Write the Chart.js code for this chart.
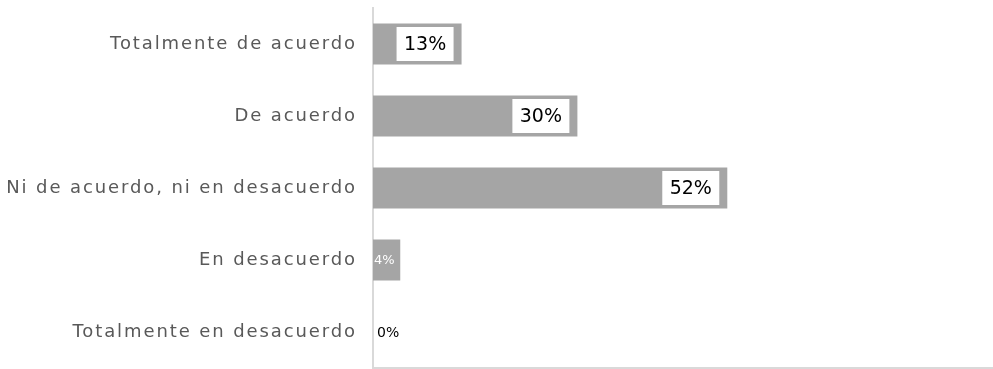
<!DOCTYPE html>
<html>
<head>
<meta charset="utf-8">
<script src="https://cdn.jsdelivr.net/npm/chart.js@4"></script>
<style>
  html, body { margin: 0; padding: 0; background: #fff; overflow: hidden; }
  #wrap { width: 993px; height: 369px; }
</style>
</head>
<body>
<div id="wrap"><canvas id="chartOpinion"></canvas></div>
<script>
// Respuestas por categoría (porcentaje)
const categorias = [
    'Totalmente de acuerdo',
    'De acuerdo',
    'Ni de acuerdo, ni en desacuerdo',
    'En desacuerdo',
    'Totalmente en desacuerdo'
];
const porcentajes = [13, 30, 52, 4, 0];
const maxEje = 91;

const fuente = "'DejaVu Sans', sans-serif";

// Espaciado entre letras para las etiquetas del eje
const espaciado = {
    id: 'espaciado',
    beforeDraw(chart) {
        chart.ctx.letterSpacing = '1.9px';
    },
    afterDraw(chart) {
        chart.ctx.letterSpacing = '0px';
    }
};

// Etiquetas de valor: caja blanca al final de la barra; si la barra es corta, texto simple
const etiquetasValor = {
    id: 'etiquetasValor',
    afterDatasetsDraw(chart) {
        const ctx = chart.ctx;
        const meta = chart.getDatasetMeta(0);
        ctx.save();
        ctx.letterSpacing = '0px';
        ctx.textBaseline = 'middle';
        meta.data.forEach(function(bar, i) {
            const v = porcentajes[i];
            const texto = v + '%';
            if (v >= 10) {
                ctx.font = '19px ' + fuente;
                const boxW = 57;
                const boxH = 34;
                const right = bar.x - 8;
                ctx.fillStyle = '#ffffff';
                ctx.fillRect(right - boxW, bar.y - boxH / 2, boxW, boxH);
                ctx.fillStyle = '#000000';
                ctx.textAlign = 'center';
                ctx.fillText(texto, right - boxW / 2, bar.y + 1);
            } else if (v > 0) {
                ctx.font = '13px ' + fuente;
                ctx.fillStyle = '#ffffff';
                ctx.textAlign = 'left';
                ctx.fillText(texto, bar.base + 1, bar.y + 1);
            } else {
                ctx.font = '14px ' + fuente;
                ctx.fillStyle = '#000000';
                ctx.textAlign = 'left';
                ctx.fillText(texto, bar.base + 4, bar.y + 1);
            }
        });
        ctx.restore();
    }
};

const ctxOpinion = document.getElementById('chartOpinion').getContext('2d');
const chartOpinion = new Chart(ctxOpinion, {
    type: 'bar',
    data: {
        labels: categorias,
        datasets: [{
            data: porcentajes,
            backgroundColor: '#a5a5a5',
            borderWidth: 0,
            barPercentage: 0.57,
            categoryPercentage: 1
        }]
    },
    options: {
        indexAxis: 'y',
        responsive: true,
        maintainAspectRatio: false,
        animation: false,
        layout: {
            padding: { top: 8, right: 0, bottom: 0, left: 0 }
        },
        plugins: {
            legend: { display: false },
            tooltip: { enabled: false }
        },
        scales: {
            x: {
                min: 0,
                max: maxEje,
                ticks: { display: false },
                grid: { display: false, drawTicks: false },
                border: { display: true, color: '#d9d9d9', width: 2 },
                afterFit: function(scale) {
                    scale.height = 1;
                    scale.paddingLeft = 0;
                    scale.paddingRight = 0;
                }
            },
            y: {
                ticks: {
                    color: '#595959',
                    font: { family: fuente, size: 18 },
                    padding: 16
                },
                grid: { display: false, drawTicks: false },
                border: { display: true, color: '#d9d9d9', width: 2 },
                afterFit: function(scale) {
                    scale.width = 373;
                    scale.paddingTop = 0;
                    scale.paddingBottom = 0;
                }
            }
        }
    },
    plugins: [espaciado, etiquetasValor]
});
</script>
</body>
</html>
